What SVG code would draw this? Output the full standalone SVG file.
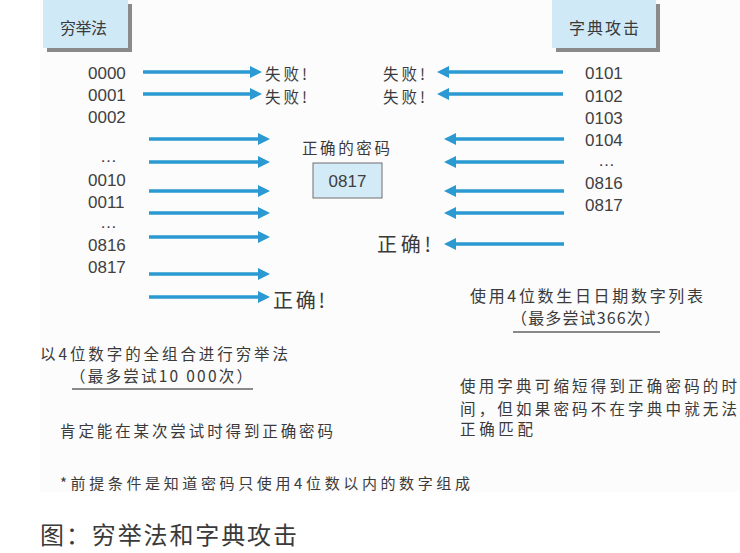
<svg xmlns="http://www.w3.org/2000/svg" width="740" height="553" viewBox="0 0 740 553">
<style>
.cjk{font-family:"Noto Sans CJK SC","Liberation Sans",sans-serif;fill:#3a3a3a;dominant-baseline:central}
.num{font-family:"Liberation Sans","Noto Sans CJK SC",sans-serif;fill:#404040;font-size:17px;dominant-baseline:central}
.arr{stroke:#2b9ad2;stroke-width:3.5;fill:none}
.hdr{fill:#d0e9f6}
.shd{fill:#8a8a8a}
.ul{stroke:#8a8a8a;stroke-width:2}
</style>
<defs>
<marker id="ah" markerUnits="userSpaceOnUse" markerWidth="12" markerHeight="12" refX="2" refY="6" orient="auto">
<path d="M0,0 L12,6 L0,12 z" fill="#2b9ad2"/>
</marker>
</defs>
<rect x="0" y="0" width="740" height="553" fill="#ffffff"/>
<rect x="40" y="0" width="700" height="492" fill="#fcfcfc"/>

<g id="header-brute">
<rect class="shd" x="47" y="4" width="85" height="48"/>
<rect class="hdr" x="43" y="0" width="85" height="48"/>
<text class="cjk" x="60" y="27" font-size="16" textLength="47" lengthAdjust="spacing">穷举法</text>
</g>
<g id="header-dict">
<rect class="shd" x="556" y="4" width="104" height="48"/>
<rect class="hdr" x="552" y="0" width="104" height="48"/>
<text class="cjk" x="569" y="27" font-size="16" textLength="70" lengthAdjust="spacing">字典攻击</text>
</g>

<g id="brute-list">
<text class="num" x="88" y="73">0000</text>
<text class="num" x="88" y="95">0001</text>
<text class="num" x="88" y="117">0002</text>
<text class="num" x="100" y="156" font-size="11">…</text>
<text class="num" x="88" y="180">0010</text>
<text class="num" x="88" y="202">0011</text>
<text class="num" x="100" y="222" font-size="11">…</text>
<text class="num" x="88" y="245">0816</text>
<text class="num" x="88" y="267">0817</text>
</g>

<g id="dict-list">
<text class="num" x="585" y="73">0101</text>
<text class="num" x="585" y="96">0102</text>
<text class="num" x="585" y="118">0103</text>
<text class="num" x="585" y="140">0104</text>
<text class="num" x="598" y="160" font-size="11">…</text>
<text class="num" x="585" y="183">0816</text>
<text class="num" x="585" y="205">0817</text>
</g>

<g id="results-brute">
<text class="cjk" x="265" y="73" font-size="15.5" textLength="42" lengthAdjust="spacing">失败!</text>
<text class="cjk" x="265" y="96" font-size="15.5" textLength="42" lengthAdjust="spacing">失败!</text>
<text class="cjk" x="273" y="299" font-size="20" textLength="52" lengthAdjust="spacing">正确!</text>
</g>
<g id="results-dict">
<text class="cjk" x="383" y="73" font-size="15.5" textLength="42" lengthAdjust="spacing">失败!</text>
<text class="cjk" x="383" y="96" font-size="15.5" textLength="42" lengthAdjust="spacing">失败!</text>
<text class="cjk" x="377" y="243" font-size="20" textLength="54" lengthAdjust="spacing">正确!</text>
</g>

<g id="correct-password">
<text class="cjk" x="302" y="147" font-size="15.5" textLength="88" lengthAdjust="spacing">正确的密码</text>
<rect x="313" y="163" width="69" height="35" fill="#d3eaf7" stroke="#6e6e6e" stroke-width="1"/>
<text class="num" x="347.5" y="181" font-size="16" text-anchor="middle">0817</text>
</g>

<g id="connectors">
<line class="arr" x1="143" y1="72" x2="252" y2="72" marker-end="url(#ah)"/>
<line class="arr" x1="143" y1="94" x2="252" y2="94" marker-end="url(#ah)"/>
<line class="arr" x1="149" y1="139" x2="260" y2="139" marker-end="url(#ah)"/>
<line class="arr" x1="149" y1="162" x2="260" y2="162" marker-end="url(#ah)"/>
<line class="arr" x1="149" y1="191" x2="260" y2="191" marker-end="url(#ah)"/>
<line class="arr" x1="149" y1="213" x2="260" y2="213" marker-end="url(#ah)"/>
<line class="arr" x1="149" y1="237" x2="260" y2="237" marker-end="url(#ah)"/>
<line class="arr" x1="149" y1="274" x2="260" y2="274" marker-end="url(#ah)"/>
<line class="arr" x1="149" y1="297" x2="260" y2="297" marker-end="url(#ah)"/>
<line class="arr" x1="563" y1="72" x2="447" y2="72" marker-end="url(#ah)"/>
<line class="arr" x1="563" y1="94" x2="447" y2="94" marker-end="url(#ah)"/>
<line class="arr" x1="564" y1="139" x2="454" y2="139" marker-end="url(#ah)"/>
<line class="arr" x1="564" y1="162" x2="454" y2="162" marker-end="url(#ah)"/>
<line class="arr" x1="564" y1="191" x2="454" y2="191" marker-end="url(#ah)"/>
<line class="arr" x1="564" y1="213" x2="454" y2="213" marker-end="url(#ah)"/>
<line class="arr" x1="564" y1="244" x2="454" y2="244" marker-end="url(#ah)"/>
</g>

<g id="note-brute">
<text class="cjk" x="40" y="353" font-size="15.5" textLength="248" lengthAdjust="spacing">以4位数字的全组合进行穷举法</text>
<text class="cjk" x="70" y="375" font-size="15.5" textLength="182" lengthAdjust="spacing">（最多尝试10 000次）</text>
<line class="ul" x1="72" y1="389" x2="253" y2="389"/>
<text class="cjk" x="60" y="430" font-size="15.5" textLength="273" lengthAdjust="spacing">肯定能在某次尝试时得到正确密码</text>
</g>

<g id="note-dict">
<text class="cjk" x="470" y="295" font-size="16" textLength="233" lengthAdjust="spacing">使用4位数生日日期数字列表</text>
<text class="cjk" x="511" y="317" font-size="16" textLength="149" lengthAdjust="spacing">（最多尝试366次）</text>
<line class="ul" x1="513" y1="332" x2="660" y2="332"/>
<text class="cjk" x="460" y="385" font-size="15.5" textLength="277" lengthAdjust="spacing">使用字典可缩短得到正确密码的时</text>
<text class="cjk" x="460" y="408" font-size="15.5" textLength="277" lengthAdjust="spacing">间，但如果密码不在字典中就无法</text>
<text class="cjk" x="460" y="428" font-size="15.5" textLength="73" lengthAdjust="spacing">正确匹配</text>
</g>

<g id="footnote">
<text class="cjk" x="60" y="482" font-size="15" textLength="410" lengthAdjust="spacing">*前提条件是知道密码只使用4位数以内的数字组成</text>
</g>

<g id="caption">
<text class="cjk" x="40" y="533" font-size="24" fill="#222" textLength="257" lengthAdjust="spacing">图：穷举法和字典攻击</text>
</g>
</svg>
